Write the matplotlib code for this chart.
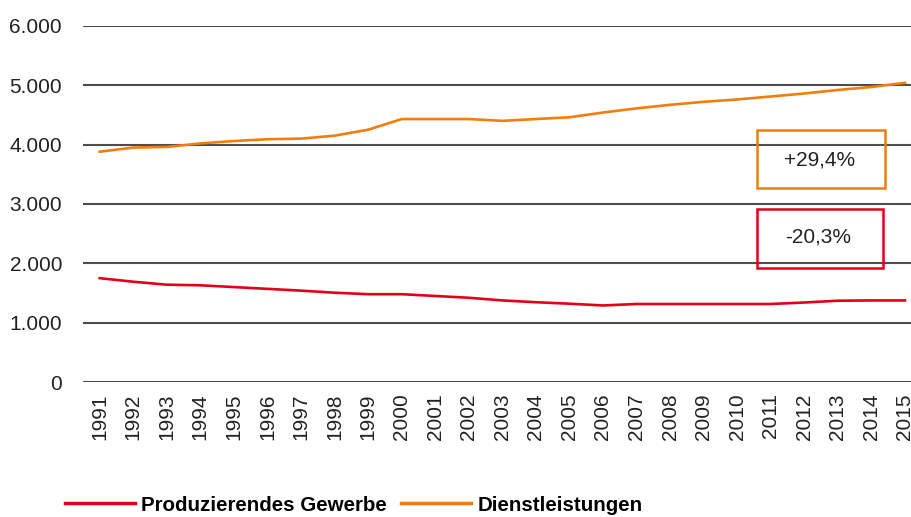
import matplotlib.pyplot as plt
from matplotlib.patches import Rectangle

plt.rcParams['font.family'] = ['Liberation Sans', 'DejaVu Sans']

jahre = [str(j) for j in range(1991, 2016)]
produzierend = [1750, 1690, 1640, 1630, 1600, 1570, 1540, 1505, 1480, 1480, 1450, 1420, 1375, 1345, 1320,
                1290, 1315, 1315, 1315, 1315, 1315, 1340, 1370, 1375, 1375]
dienst = [3880, 3950, 3960, 4020, 4060, 4090, 4100, 4150, 4250, 4430, 4430, 4430, 4400, 4430, 4460,
          4540, 4610, 4670, 4720, 4760, 4810, 4860, 4920, 4970, 5040]
yticks = [0, 1000, 2000, 3000, 4000, 5000, 6000]
ytick_labels = ['0', '1.000', '2.000', '3.000', '4.000', '5.000', '6.000']

rot = '#e2001a'
orange = '#f07d0c'

fig = plt.figure(figsize=(9.11, 5.17), dpi=100)
ax = fig.add_axes([0.091, 0.261, 0.909, 0.689])

x = list(range(len(jahre)))
ax.plot(x, produzierend, color=rot, lw=1.9, label='Produzierendes Gewerbe', zorder=3)
ax.plot(x, dienst, color=orange, lw=1.9, label='Dienstleistungen', zorder=3)

ax.set_xlim(-0.5, len(jahre) - 1 + 0.18)
ax.set_ylim(0, 6000)
ax.set_yticks(yticks)
ax.set_yticklabels(ytick_labels, fontsize=15, color='#222222')
ax.set_xticks(x)
ax.set_xticklabels(jahre, rotation=90, fontsize=15, color='#222222')
for y in yticks:
    ax.axhline(y, color='#4d4d4d', lw=1.5, zorder=1)
for s in ax.spines.values():
    s.set_visible(False)
ax.tick_params(axis='both', length=0)
ax.tick_params(axis='y', pad=15)
ax.tick_params(axis='x', pad=8)

# Kästchen mit Veränderung
ax.add_patch(Rectangle((0.814, 0.545), 0.1546, 0.163, transform=ax.transAxes, fill=False,
                       edgecolor=orange, lw=1.8, clip_on=False, zorder=4))
ax.text(0.890, 0.624, '+29,4%', transform=ax.transAxes, ha='center', va='center', fontsize=15, color='#222222')
ax.add_patch(Rectangle((0.814, 0.320), 0.152, 0.166, transform=ax.transAxes, fill=False,
                       edgecolor=rot, lw=1.8, clip_on=False, zorder=4))
ax.text(0.888, 0.407, '-20,3%', transform=ax.transAxes, ha='center', va='center', fontsize=15, color='#222222')

leg = fig.legend(loc='center left', bbox_to_anchor=(0.051, 0.023), ncol=2, frameon=False,
                 handlelength=3.4, handletextpad=0.3, columnspacing=0.7,
                 prop={'size': 14.8, 'weight': 'bold', 'family': ['Liberation Sans']})
for l in leg.get_lines():
    l.set_linewidth(2.5)

fig.savefig('out.png', dpi=100)
